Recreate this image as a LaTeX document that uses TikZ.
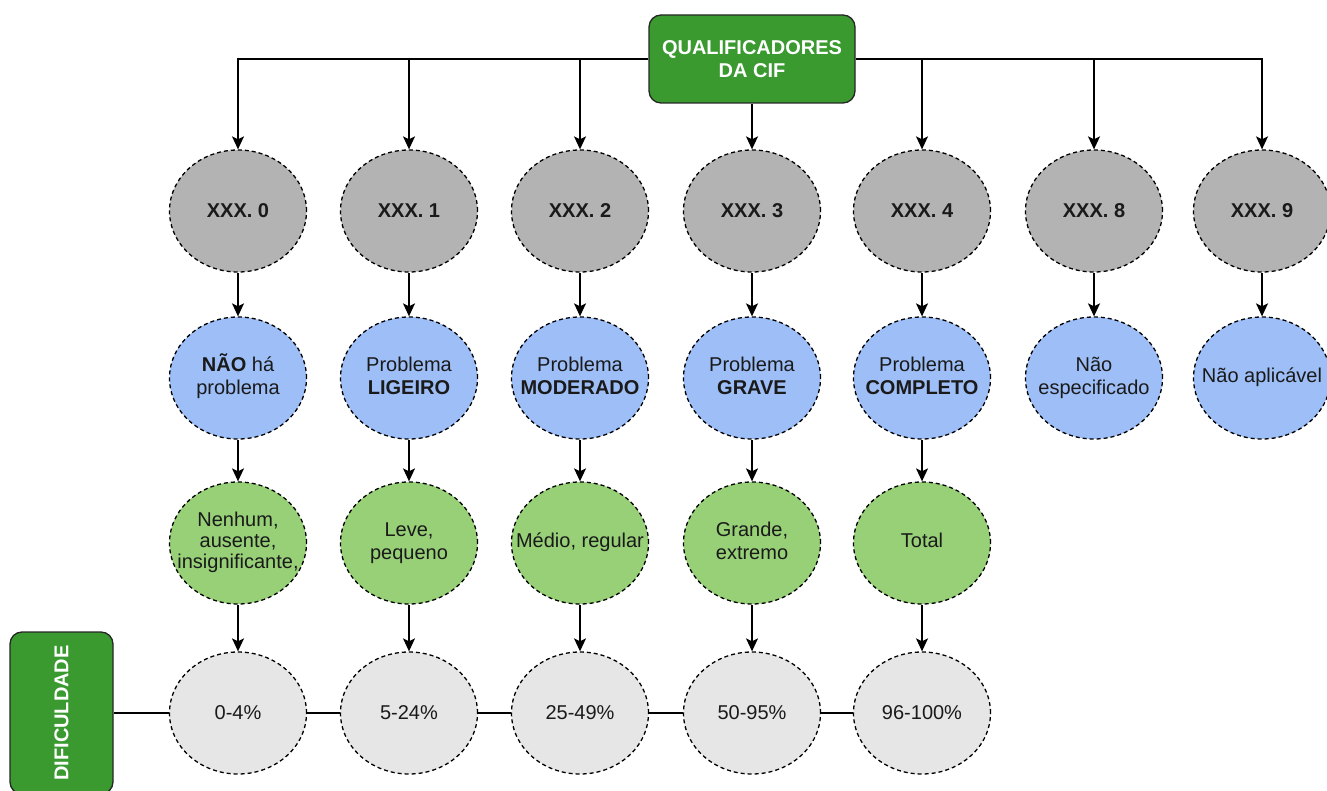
\documentclass[tikz,border=0pt]{standalone}
\usepackage{fontspec}
\setmainfont{Liberation Sans}
\usetikzlibrary{shapes.geometric,arrows.meta}

\definecolor{boxgreen}{HTML}{3A9A30}
\definecolor{leafgreen}{HTML}{97D077}
\definecolor{codegrey}{HTML}{B3B3B3}
\definecolor{probblue}{HTML}{9DBEF7}
\definecolor{pctgrey}{HTML}{E6E6E6}
\definecolor{txt}{HTML}{1A1A1A}

% centred text block that does not widen its ellipse
\newcommand\ovtxt[1]{\makebox[0pt]{\begin{tabular}{@{}c@{}}#1\end{tabular}}}

\begin{document}
\begin{tikzpicture}[x=1pt,y=-1pt,
  oval/.style={ellipse, draw=black, dash pattern=on 4pt off 3pt, line width=1.3pt,
    minimum width=137pt, minimum height=122pt, inner sep=0pt, align=center,
    text=txt, font=\fontsize{20}{23}\selectfont},
  codeoval/.style={oval, fill=codegrey, font=\fontsize{20}{23}\selectfont\bfseries},
  proboval/.style={oval, fill=probblue},
  leafoval/.style={oval, fill=leafgreen},
  pctoval/.style={oval, fill=pctgrey},
  titlebox/.style={rectangle, rounded corners=12pt, draw=black!85, line width=1.3pt,
    fill=boxgreen, text=white, align=center, inner sep=0pt,
    font=\fontsize{20}{23}\selectfont\bfseries},
  link/.style={line width=1.5pt, draw=black},
  arr/.style={link, -{Stealth[length=13pt,width=12pt,inset=3pt]}}
]
\useasboundingbox (0,0) rectangle (1327,791);

% header box
\node[titlebox, minimum width=206pt, minimum height=88pt] (Q) at (752,59)
  {QUALIFICADORES\\DA CIF};

% qualifier codes
\foreach \i/\x/\c in {0/238/0, 1/409/1, 2/580/2, 3/752/3, 4/922/4, 5/1094/8, 6/1262/9}
  \node[codeoval] (g\i) at (\x,211) {XXX. \c};

% problem level
\node[proboval] (b0) at (238,378) {\ovtxt{\textbf{NÃO} há\\problema}};
\node[proboval] (b1) at (409,378) {\ovtxt{Problema\\\textbf{LIGEIRO}}};
\node[proboval] (b2) at (580,378) {\ovtxt{Problema\\\textbf{MODERADO}}};
\node[proboval] (b3) at (752,378) {\ovtxt{Problema\\\textbf{GRAVE}}};
\node[proboval] (b4) at (922,378) {\ovtxt{Problema\\\textbf{COMPLETO}}};
\node[proboval] (b5) at (1094,378) {\ovtxt{Não\\especificado}};
\node[proboval] (b6) at (1262,378) {\ovtxt{Não aplicável}};

% descriptors
\node[leafoval] (l0) at (238,543)
  {\raisebox{-3pt}{\fontsize{20}{21}\selectfont\ovtxt{Nenhum,\\ausente,\\insignificante,}}};
\node[leafoval] (l1) at (409,543) {\ovtxt{Leve,\\pequeno}};
\node[leafoval] (l2) at (580,543) {\ovtxt{Médio, regular}};
\node[leafoval] (l3) at (752,543) {\ovtxt{Grande,\\extremo}};
\node[leafoval] (l4) at (922,543) {\ovtxt{Total}};

% percentages
\node[pctoval] (p0) at (238,713) {0-4\%};
\node[pctoval] (p1) at (409,713) {5-24\%};
\node[pctoval] (p2) at (580,713) {25-49\%};
\node[pctoval] (p3) at (752,713) {50-95\%};
\node[pctoval] (p4) at (922,713) {96-100\%};

% difficulty box
\node[titlebox, minimum width=103pt, minimum height=162pt] (D) at (61.5,713)
  {\rotatebox{90}{DIFICULDADE}};

% header to codes
\draw[arr] (Q.west) -| (g0.north);
\draw[arr] (Q.west) -| (g1.north);
\draw[arr] (Q.west) -| (g2.north);
\draw[arr] (Q.south) -- (g3.north);
\draw[arr] (Q.east) -| (g4.north);
\draw[arr] (Q.east) -| (g5.north);
\draw[arr] (Q.east) -| (g6.north);

% vertical chains
\foreach \i in {0,...,6} \draw[arr] (g\i) -- (b\i);
\foreach \i in {0,...,4} \draw[arr] (b\i) -- (l\i);
\foreach \i in {0,...,4} \draw[arr] (l\i) -- (p\i);

% difficulty scale line
\draw[link] (D.east) -- (p0.west);
\draw[link] (p0.east) -- (p1.west);
\draw[link] (p1.east) -- (p2.west);
\draw[link] (p2.east) -- (p3.west);
\draw[link] (p3.east) -- (p4.west);
\end{tikzpicture}
\end{document}
